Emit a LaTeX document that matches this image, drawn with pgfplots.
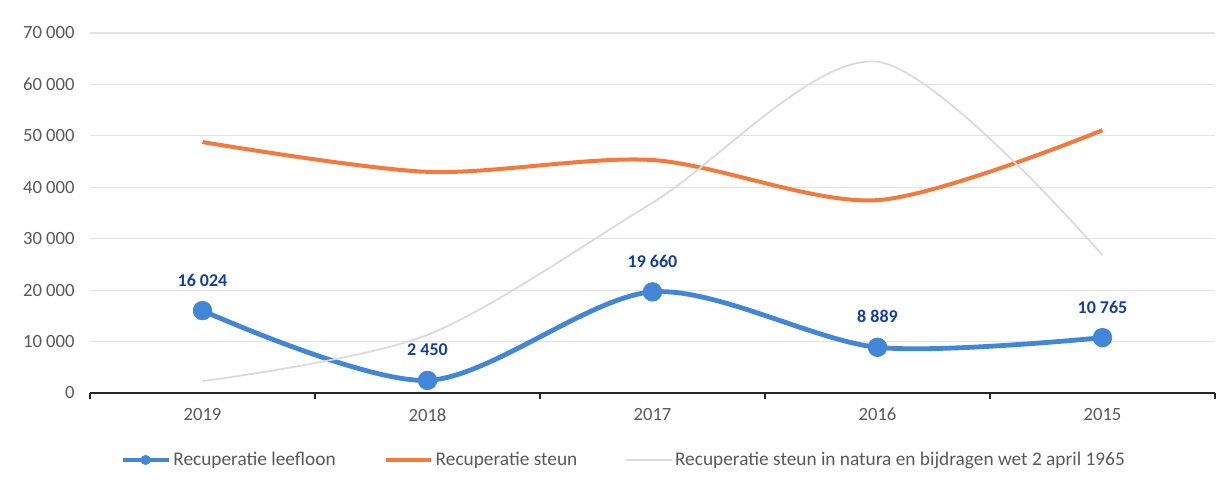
\documentclass[border=0pt]{standalone}
\usepackage{pgfplots}
\pgfplotsset{compat=1.18}
\usepackage{fontspec}
\setmainfont{Carlito}
\definecolor{cblue}{RGB}{66,134,216}
\definecolor{corange}{RGB}{244,121,59}
\definecolor{cgrey}{RGB}{218,218,218}
\definecolor{clabel}{RGB}{20,62,162}
\definecolor{ctext}{RGB}{89,89,89}
\begin{document}
\begin{tikzpicture}
\useasboundingbox (-67.5pt,-66.75pt) rectangle (849pt,294.75pt);
\begin{axis}[
  scale only axis,
  width=843.75pt, height=270pt,
  xmin=-0.5, xmax=4.5, ymin=0, ymax=70000,
  scaled y ticks=false,
  axis x line*=bottom, axis y line*=left,
  x axis line style={-, black!85, line width=1.6pt},
  y axis line style={draw=none},
  xtick={0,1,2,3,4},
  xticklabels={2019,2018,2017,2016,2015},
  minor xtick={-0.5,0.5,1.5,2.5,3.5,4.5},
  major tick length=0pt,
  minor tick length=4.5pt,
  tick align=outside,
  minor tick style={black!85, line width=1pt},
  ytick={0,10000,...,70000},
  yticklabels={0,10 000,20 000,30 000,40 000,50 000,60 000,70 000},
  ymajorgrids,
  major grid style={gray!22, line width=0.8pt},
  tick label style={font=\fontsize{14}{16}\selectfont, text=ctext},
  yticklabel style={xshift=-8pt},
  xticklabel style={yshift=-8pt},
  legend columns=3,
  legend style={draw=none, fill=none, at={(0.4747,-0.186)}, anchor=center,
    font=\fontsize{14.5}{16}\selectfont, text=ctext,
    /tikz/every even column/.append style={column sep=34pt},
    inner xsep=0pt},
  legend image code/.code={\draw[#1, mark size=3.5pt, mark repeat=2, mark phase=2]
    plot coordinates {(0pt,0pt) (17pt,0pt) (34pt,0pt)};},
  every axis legend/.append style={cells={anchor=west, inner xsep=2pt}},
]
\addplot[cblue, line width=3.6pt, smooth, tension=0.5, mark=*, mark size=7pt,
  mark options={fill=cblue, draw=cblue, line width=0.5pt},
  point meta=explicit symbolic,
  nodes near coords,
  every node near coord/.style={anchor=center, yshift=23pt,
    font=\bfseries\fontsize{13.5}{15}\selectfont, text=clabel}]
  coordinates {(0,16024) [16 024] (1,2450) [2 450] (2,19660) [19 660] (3,8889) [8 889] (4,10765) [10 765]};
\addlegendentry{Recuperatie leefloon}
\addplot[corange, line width=3pt, smooth, tension=0.5, no markers]
  coordinates {(0,48800) (1,43000) (2,45300) (3,37500) (4,51100)};
\addlegendentry{Recuperatie steun}
\addplot[cgrey, line width=1.3pt, smooth, tension=0.5, no markers]
  coordinates {(0,2300) (1,11300) (2,37000) (3,64400) (4,26800)};
\addlegendentry{Recuperatie steun in natura en bijdragen wet 2 april 1965}
\end{axis}
\end{tikzpicture}
\end{document}
